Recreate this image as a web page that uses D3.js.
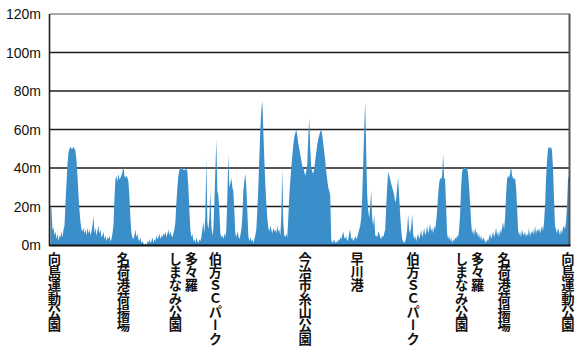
<!DOCTYPE html>
<html>
<head>
<meta charset="utf-8">
<script src="https://cdn.jsdelivr.net/npm/d3@7"></script>
<style>
  html, body { margin: 0; padding: 0; background: #fff; }
  svg { display: block; }
</style>
</head>
<body>
<svg id="chart" width="585" height="356"></svg>
<script>
// Elevation profile (m), sampled every 0.2 km along the route
const stepKm = 0.2;
const elevation = [
  20,19,8,9,5,7,3,6,2,5,
  4,7,4,8,10,22,32,42,48,50,
  51,50,50,51,50,49,44,36,26,18,
  12,8,7,9,6,8,5,9,6,8,
  5,7,10,15,6,9,5,7,10,6,
  8,4,5,7,3,5,2,4,3,5,
  2,3,6,10,24,34,36,33,37,34,
  35,36,38,41,36,35,36,35,33,25,
  14,6,4,3,5,8,4,6,3,2,
  4,1,2,1,0,1,0,2,1,3,
  1,2,4,1,3,2,5,3,4,6,
  3,5,4,6,5,7,4,6,8,5,
  7,5,4,6,8,12,22,30,36,39,
  40,40,40,39,39,39,40,38,30,18,
  8,4,6,2,3,1,4,2,1,3,
  2,4,8,12,6,15,45,12,8,14,
  28,10,5,8,22,38,55,28,26,18,
  6,4,5,3,6,4,8,25,47,30,
  32,35,30,28,18,6,4,7,5,3,
  5,8,14,28,33,37,30,18,5,2,
  4,2,3,1,3,5,8,18,30,45,
  60,70,75,60,45,32,22,14,9,7,
  10,8,6,9,7,8,6,10,7,8,
  5,14,40,12,5,4,6,4,14,25,
  33,40,46,52,56,58,60,57,53,50,
  47,44,41,40,38,36,38,42,56,66,
  50,40,38,37,40,44,48,52,55,57,
  59,60,57,53,48,44,38,34,30,28,
  26,3,1,2,3,1,2,1,3,2,
  4,3,5,7,4,3,5,2,3,6,
  8,3,4,2,3,5,3,4,6,8,
  10,14,25,42,60,75,48,26,18,14,
  20,28,14,10,16,5,5,4,7,6,
  4,3,5,4,6,8,20,30,38,36,
  34,32,30,28,26,22,24,30,35,25,
  16,8,3,2,1,2,4,8,16,8,
  6,10,16,6,3,5,2,4,6,3,
  5,8,4,6,9,5,7,10,6,8,
  11,7,9,6,10,8,12,18,26,32,
  35,34,36,47,35,34,20,6,3,5,
  2,4,1,3,2,4,3,5,4,8,
  16,30,38,40,40,40,40,40,37,30,
  22,12,6,8,5,9,6,7,4,6,
  3,5,2,4,3,2,1,3,2,4,
  6,3,5,7,4,6,9,5,7,4,
  8,6,9,12,8,14,26,34,36,35,
  37,41,36,35,34,35,30,20,8,5,
  7,4,8,6,5,7,4,6,5,9,
  4,7,6,8,5,10,6,8,7,9,
  6,8,10,7,12,20,34,44,50,51,
  50,51,49,40,24,10,8,6,9,7,
  5,8,6,9,10,8,12,20,34,36
];

// Y axis ticks (m)
const yTicks = [0, 20, 40, 60, 80, 100, 120];
const yTickLabels = ["0m", "20m", "40m", "60m", "80m", "100m", "120m"];

// Place labels along route (km) and their names (columns, right to left)
const placeKm = [0.8, 14.6, 26.6, 33.0, 51.0, 61.4, 72.6, 83.9, 90.8, 103.6];
const placeNames = [
  ["向島運動公園"],
  ["名荷港荷揚場"],
  ["多々羅", "しまなみ公園"],
  ["伯方ＳＣパーク"],
  ["今治市糸山公園"],
  ["早川港"],
  ["伯方ＳＣパーク"],
  ["多々羅", "しまなみ公園"],
  ["名荷港荷揚場"],
  ["向島運動公園"]
];

const svg = d3.select("#chart");
const mLeft = 50, mRight = 569, mTop = 14, mBottom = 245;

const data = elevation.map((e, i) => ({ km: i * stepKm, m: e }));
const x = d3.scaleLinear().domain([0, (elevation.length - 1) * stepKm]).range([mLeft + 0.5, mRight]);
const y = d3.scaleLinear().domain([0, 120]).range([mBottom, mTop]);

// gridlines (beneath area)
svg.append("g").selectAll("line")
  .data(yTicks.filter(t => t > 0 && t < 120))
  .join("line")
  .attr("x1", mLeft).attr("x2", mRight)
  .attr("y1", d => y(d)).attr("y2", d => y(d))
  .attr("stroke", "#1e1e1e").attr("stroke-width", 1.4);

// top line
svg.append("line")
  .attr("x1", mLeft).attr("x2", mRight + 1)
  .attr("y1", y(120)).attr("y2", y(120))
  .attr("stroke", "#555").attr("stroke-width", 1.2);

// area
const area = d3.area()
  .x(d => x(d.km))
  .y0(y(0))
  .y1(d => y(d.m))
  .curve(d3.curveLinear);

svg.append("path")
  .datum(data)
  .attr("d", area)
  .attr("fill", "#3a8fca");

// frame
svg.append("line")
  .attr("x1", mRight + 0.5).attr("x2", mRight + 0.5)
  .attr("y1", y(120)).attr("y2", mBottom + 1)
  .attr("stroke", "#555").attr("stroke-width", 2);
svg.append("line")
  .attr("x1", mLeft - 0.5).attr("x2", mLeft - 0.5)
  .attr("y1", y(120)).attr("y2", mBottom + 1)
  .attr("stroke", "#1e1e1e").attr("stroke-width", 1.6);
svg.append("line")
  .attr("x1", mLeft - 1).attr("x2", mRight + 1.5)
  .attr("y1", mBottom + 0.5).attr("y2", mBottom + 0.5)
  .attr("stroke", "#111").attr("stroke-width", 2);

// y axis labels
svg.append("g").selectAll("text")
  .data(yTicks)
  .join("text")
  .attr("x", 41)
  .attr("y", d => y(d))
  .attr("dy", "0.36em")
  .attr("text-anchor", "end")
  .attr("font-family", "'Liberation Sans', Arial, sans-serif")
  .attr("font-size", 14)
  .attr("fill", "#111")
  .text((d, i) => yTickLabels[i]);

// place labels (vertical Japanese text)
const colGap = 16;
placeKm.forEach((km, i) => {
  const cols = placeNames[i];
  const cx = x(km);
  const n = cols.length;
  cols.forEach((txt, j) => {
    // first column is rightmost
    const colX = cx + ((n - 1) / 2 - j) * colGap;
    svg.append("text")
      .attr("x", colX)
      .attr("y", 252)
      .attr("text-anchor", "start")
      .style("writing-mode", "vertical-rl")
      .style("text-orientation", "upright")
      .attr("font-family", "'Noto Sans CJK JP', sans-serif")
      .attr("font-weight", "bold")
      .attr("font-size", 13.3)
      .attr("fill", "#111")
      .text(txt);
  });
});
</script>
</body>
</html>
